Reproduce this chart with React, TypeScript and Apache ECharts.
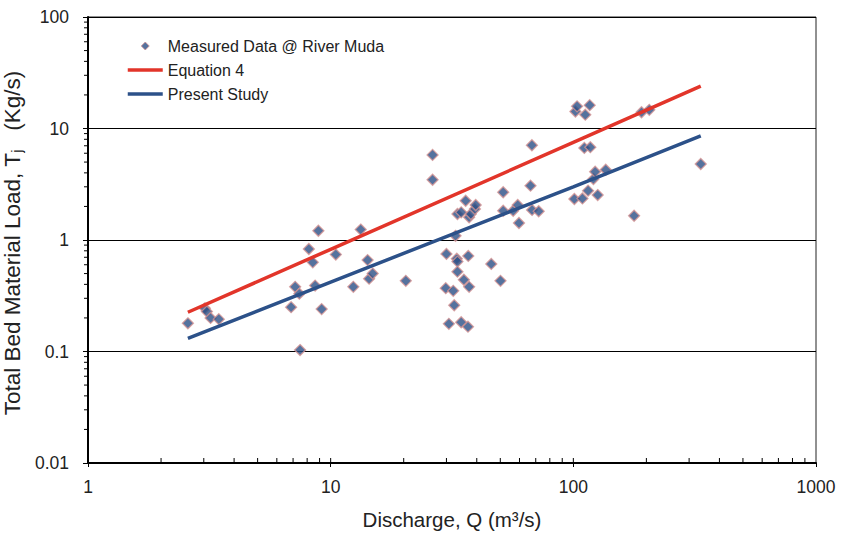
import React, { useEffect, useRef } from "react";
import * as echarts from "echarts";

// Measured data @ River Muda: discharge Q (m3/s) and total bed material load (kg/s)
const measuredQ = [
  2.58, 3.03, 3.09, 3.2, 3.46, 6.87, 7.14, 7.43, 7.48, 8.13, 8.44, 8.63, 8.9, 9.18, 10.5,
  12.4, 13.3, 14.2, 14.4, 14.9, 20.4, 26.3, 26.3, 29.8, 30, 30.7, 32.0, 32.3, 32.7, 33.1,
  33.3, 33.3, 33.3, 34.5, 34.5, 35.4, 36, 36.8, 36.9, 37.2, 37.2, 37.8, 39.3, 39.6, 45.9,
  50.1, 51.4, 51.4, 56.5, 59, 59.7, 66.6, 67.5, 67.6, 72, 101, 102, 103.6, 109, 111, 112,
  115, 116.8, 117.5, 121, 123, 126, 136, 178, 191, 205.6, 335,
];
const measuredT = [
  0.179, 0.244, 0.228, 0.2, 0.195, 0.25, 0.38, 0.33, 0.103, 0.83, 0.63, 0.39, 1.21, 0.24, 0.74,
  0.38, 1.24, 0.66, 0.45, 0.5, 0.43, 5.8, 3.47, 0.37, 0.75, 0.177, 0.35, 0.26, 1.09, 0.68,
  0.64, 0.52, 1.71, 1.77, 0.183, 0.44, 2.25, 0.167, 0.72, 1.6, 0.38, 1.71, 1.9, 2.06, 0.61,
  0.43, 2.68, 1.83, 1.83, 2.06, 1.42, 3.07, 7.07, 1.86, 1.81, 2.33, 14.2, 15.8, 2.36, 6.7, 13.3,
  2.77, 16.2, 6.8, 3.52, 4.1, 2.53, 4.27, 1.65, 14.0, 14.7, 4.8,
];

// Equation 4
const eq4Q = [2.58, 10, 100, 335];
const eq4T = [0.225, 0.825, 7.5, 24];

// Present study
const presentQ = [2.58, 10, 100, 335];
const presentT = [0.131, 0.42, 3.0, 8.6];

// Axis tick values
const xInnerTicks = [2, 3, 4, 5, 6, 7, 8, 9, 10, 20, 30, 40, 50, 60, 70, 80, 90, 100, 200, 300, 400, 500, 600, 700, 800, 900];
const yMinorTicks = [
  0.02, 0.03, 0.04, 0.05, 0.06, 0.07, 0.08, 0.09, 0.2, 0.3, 0.4, 0.5, 0.6, 0.7, 0.8, 0.9,
  2, 3, 4, 5, 6, 7, 8, 9, 20, 30, 40, 50, 60, 70, 80, 90,
];

const FONT = "'Liberation Sans', Arial, Helvetica, sans-serif";

export default function App() {
  const ref = useRef<HTMLDivElement>(null);

  useEffect(() => {
    document.body.style.margin = "0";
    if (!ref.current) return;
    const chart = echarts.init(ref.current, undefined, { renderer: "svg" });

    const option: any = {
      animation: false,
      backgroundColor: "#ffffff",
      textStyle: { fontFamily: FONT },
      grid: {
        left: 88,
        right: 27,
        top: 17,
        bottom: 77,
        outerBoundsMode: "none",
        containLabel: false,
        show: true,
        borderColor: "#222",
        borderWidth: 1,
      },
      legend: {
        orient: "vertical",
        left: 121,
        top: 33,
        itemWidth: 35,
        itemHeight: 8,
        itemGap: 8,
        symbolKeepAspect: true,
        textStyle: { fontFamily: FONT, fontSize: 16, color: "#222" },
        data: [
          {
            name: "Measured Data @ River Muda",
            icon: "path://M5,0L10,5L5,10L0,5Z",
            itemStyle: { borderWidth: 1 },
          },
          { name: "Equation 4", itemStyle: { opacity: 0 }, lineStyle: { width: 3.5 } },
          { name: "Present Study", itemStyle: { opacity: 0 }, lineStyle: { width: 3.5 } },
        ],
      },
      xAxis: {
        type: "log",
        logBase: 10,
        min: 1,
        max: 1000,
        name: "Discharge, Q (m³/s)",
        nameLocation: "middle",
        nameGap: 46,
        nameTextStyle: { fontFamily: FONT, fontSize: 20.5, color: "#222" },
        axisLine: { show: true, onZero: false, lineStyle: { color: "#000", width: 2 } },
        axisTick: { show: true, inside: false, length: 4, lineStyle: { color: "#000", width: 1 } },
        axisLabel: {
          fontFamily: FONT,
          fontSize: 17.5,
          color: "#222",
          margin: 15,
          formatter: (v: number) => String(v),
        },
        splitLine: { show: false },
        minorTick: { show: false },
      },
      yAxis: {
        type: "log",
        logBase: 10,
        min: 0.01,
        max: 100,
        name: "Total Bed Material Load, T{sub|j}   (Kg/s) ",
        nameLocation: "middle",
        nameGap: 55,
        nameTextStyle: {
          fontFamily: FONT,
          fontSize: 22.5,
          color: "#222",
          lineHeight: 23,
          rich: { sub: { fontFamily: FONT, fontSize: 15, color: "#222", lineHeight: 8, verticalAlign: "bottom" } },
        },
        axisLine: { show: true, onZero: false, lineStyle: { color: "#000", width: 2 } },
        axisTick: { show: true, inside: false, length: 5, lineStyle: { color: "#000", width: 1 } },
        axisLabel: {
          fontFamily: FONT,
          fontSize: 17.5,
          color: "#222",
          margin: 19,
          formatter: (v: number) => String(v),
        },
        splitLine: { show: true, lineStyle: { color: "#000", width: 1 } },
      },
      series: [
        {
          name: "Measured Data @ River Muda",
          type: "scatter",
          symbol: "diamond",
          symbolSize: 11,
          itemStyle: { color: "#2a4f86", borderColor: "#d39292", borderWidth: 1.3 },
          data: measuredQ.map((q, i) => [q, measuredT[i]]),
          z: 3,
        },
        {
          name: "Equation 4",
          type: "line",
          symbol: "none",
          showSymbol: false,
          lineStyle: { color: "#e2352a", width: 3.5 },
          itemStyle: { color: "#e2352a" },
          data: eq4Q.map((q, i) => [q, eq4T[i]]),
          z: 4,
        },
        {
          name: "Present Study",
          type: "line",
          symbol: "none",
          showSymbol: false,
          lineStyle: { color: "#2c5189", width: 3.5 },
          itemStyle: { color: "#2c5189" },
          data: presentQ.map((q, i) => [q, presentT[i]]),
          z: 4,
        },
        {
          name: "xticks",
          type: "custom",
          silent: true,
          z: 6,
          data: xInnerTicks.map((v) => [v, 0.01]),
          renderItem: (params: any, api: any) => {
            const p = api.coord([api.value(0), api.value(1)]);
            return {
              type: "line",
              shape: { x1: p[0], y1: p[1], x2: p[0], y2: p[1] - 5 },
              style: { stroke: "#000", lineWidth: 1 },
            };
          },
        },
        {
          name: "yticks",
          type: "custom",
          silent: true,
          z: 6,
          data: yMinorTicks.map((v) => [1, v]),
          renderItem: (params: any, api: any) => {
            const p = api.coord([api.value(0), api.value(1)]);
            return {
              type: "line",
              shape: { x1: p[0], y1: p[1], x2: p[0] - 4, y2: p[1] },
              style: { stroke: "#000", lineWidth: 1 },
            };
          },
        },
      ],
    };

    chart.setOption(option);
    return () => chart.dispose();
  }, []);

  return <div ref={ref} style={{ width: 843, height: 540 }} />;
}
